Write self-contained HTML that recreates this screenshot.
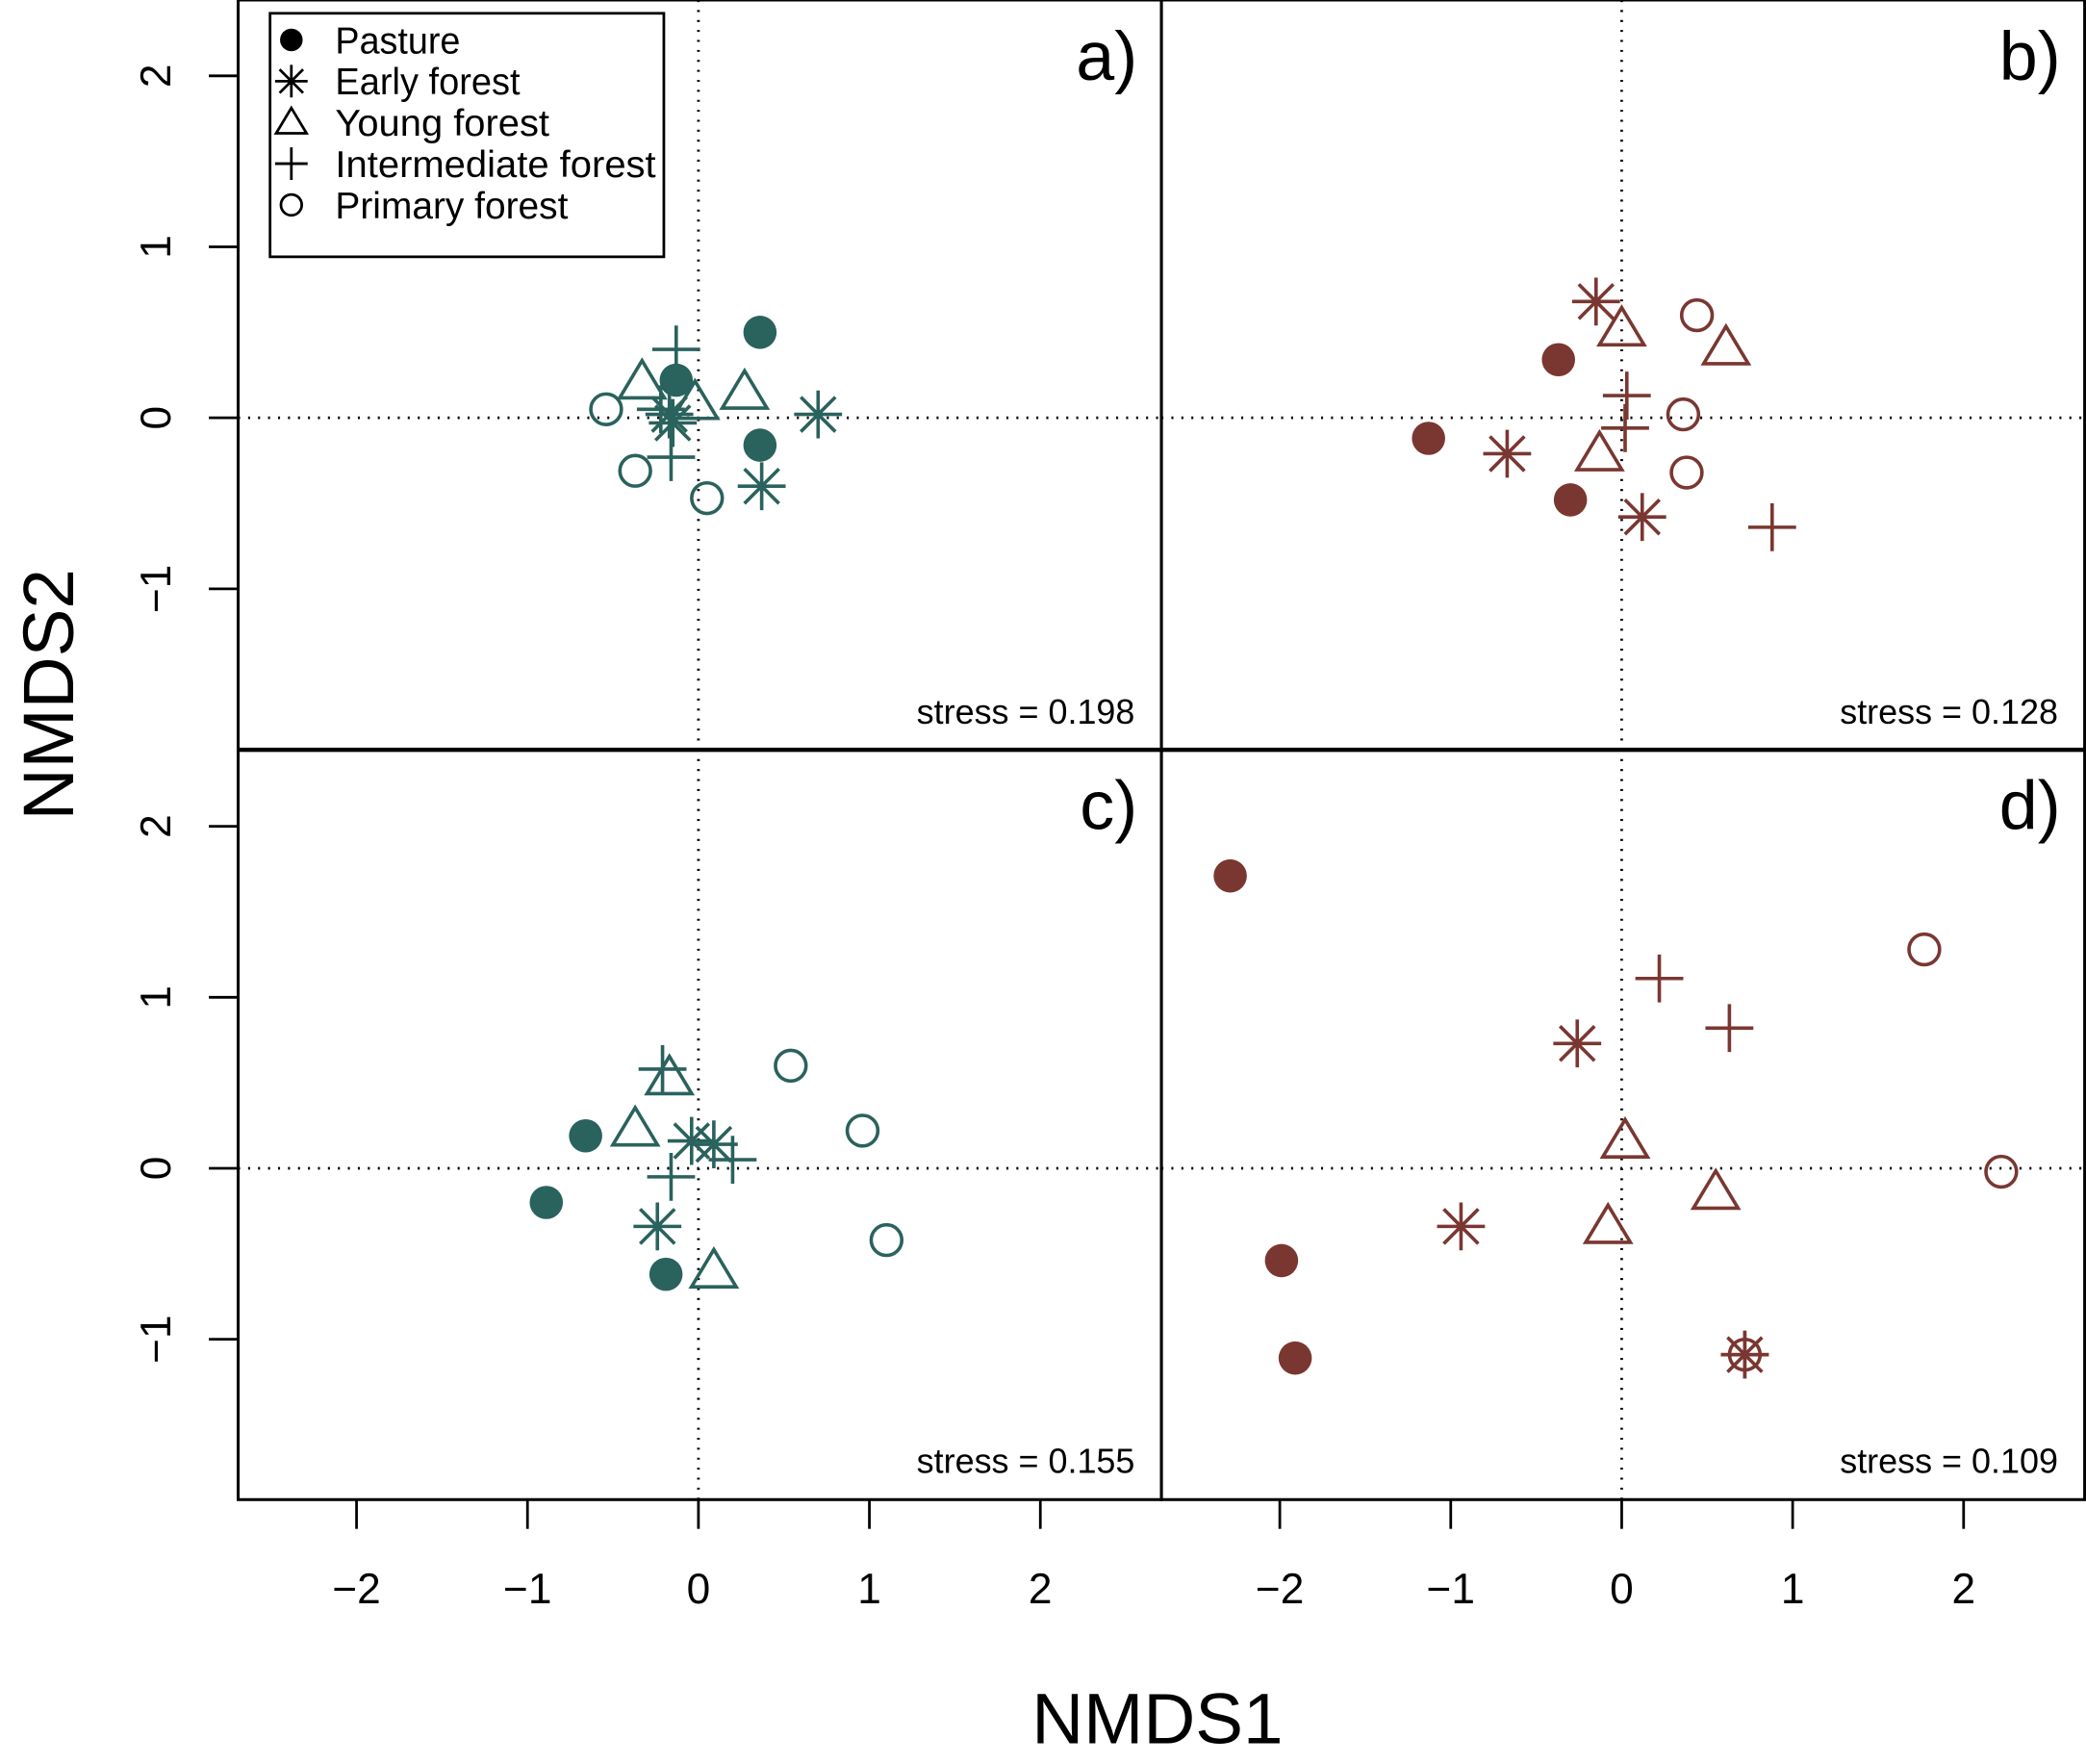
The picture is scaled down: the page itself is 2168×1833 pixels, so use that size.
<!DOCTYPE html>
<html><head><meta charset="utf-8"><style>
html,body{margin:0;padding:0;background:#fff;}
svg{display:block;}
text{font-family:"Liberation Sans",sans-serif;}
</style></head><body>
<svg id="chart" xmlns="http://www.w3.org/2000/svg" width="2168" height="1833" viewBox="0 0 1568 1325.7" preserveAspectRatio="none">
<rect x="0" y="0" width="1568" height="1326" fill="#fff"/>
<g id="frames"></g>
<g id="marks"></g>
<g id="legend">
  <rect x="203" y="10" width="296" height="183" fill="none" stroke="#000" stroke-width="2"/>
</g>
<text x="870" y="1310" font-size="54" text-anchor="middle">NMDS1</text>
<text transform="translate(55,522) rotate(-90)" font-size="54" text-anchor="middle">NMDS2</text>
</svg>
<script>
const categories = ["Pasture","Early forest","Young forest","Intermediate forest","Primary forest"];
const shapes = ["dot","star","tri","plus","circ"];
const tickValues = [-2,-1,0,1,2];
const tickLabels = ["\u22122","\u22121","0","1","2"];
const panelLabels = ["a)","b)","c)","d)"];
const stressValues = ["stress = 0.198","stress = 0.128","stress = 0.155","stress = 0.109"];
// panel a
const aPastureX=[0.36,-0.13,0.36], aPastureY=[0.50,0.22,-0.16];
const aEarlyX=[0.70,0.37,-0.17,-0.15], aEarlyY=[0.02,-0.40,0.02,-0.03];
const aYoungX=[-0.33,0.27,-0.02], aYoungY=[0.21,0.15,0.09];
const aInterX=[-0.13,-0.22,-0.16], aInterY=[0.40,0.05,-0.23];
const aPrimX=[-0.54,-0.37,0.05], aPrimY=[0.05,-0.31,-0.47];
// panel b
const bPastureX=[-0.37,-1.13,-0.30], bPastureY=[0.34,-0.12,-0.48];
const bEarlyX=[-0.15,-0.67,0.12], bEarlyY=[0.68,-0.21,-0.58];
const bYoungX=[0.00,0.61,-0.13], bYoungY=[0.52,0.41,-0.21];
const bInterX=[0.03,0.02,0.88], bInterY=[0.13,-0.06,-0.64];
const bPrimX=[0.44,0.36,0.38], bPrimY=[0.60,0.02,-0.32];
// panel c
const cPastureX=[-0.66,-0.89,-0.19], cPastureY=[0.19,-0.20,-0.62];
const cEarlyX=[-0.04,0.09,-0.24], cEarlyY=[0.16,0.14,-0.34];
const cYoungX=[-0.37,-0.17,0.09], cYoungY=[0.23,0.53,-0.60];
const cInterX=[-0.21,0.20,-0.16], cInterY=[0.58,0.05,-0.05];
const cPrimX=[0.54,0.96,1.10], cPrimY=[0.60,0.22,-0.42];
// panel d
const dPastureX=[-2.29,-1.99,-1.91], dPastureY=[1.71,-0.54,-1.11];
const dEarlyX=[-0.26,-0.94,0.72], dEarlyY=[0.73,-0.34,-1.09];
const dYoungX=[0.02,0.55,-0.08], dYoungY=[0.16,-0.14,-0.34];
const dInterX=[0.22,0.63,0.72], dInterY=[1.11,0.82,-1.09];
const dPrimX=[1.77,2.22,0.72], dPrimY=[1.28,-0.02,-1.09];

const NS="http://www.w3.org/2000/svg";
const TEAL="#2a625d", BROWN="#7a3731";
const panels=[
 {x0:179,y0:0,cx:525,cy:314,color:TEAL,data:[[aPastureX,aPastureY],[aEarlyX,aEarlyY],[aYoungX,aYoungY],[aInterX,aInterY],[aPrimX,aPrimY]]},
 {x0:873,y0:0,cx:1219,cy:314,color:BROWN,data:[[bPastureX,bPastureY],[bEarlyX,bEarlyY],[bYoungX,bYoungY],[bInterX,bInterY],[bPrimX,bPrimY]]},
 {x0:179,y0:563,cx:525,cy:878,color:TEAL,data:[[cPastureX,cPastureY],[cEarlyX,cEarlyY],[cYoungX,cYoungY],[cInterX,cInterY],[cPrimX,cPrimY]]},
 {x0:873,y0:563,cx:1219,cy:878,color:BROWN,data:[[dPastureX,dPastureY],[dEarlyX,dEarlyY],[dYoungX,dYoungY],[dInterX,dInterY],[dPrimX,dPrimY]]}
];
const U=128.5, PW=694, PH=564;
function el(tag,attrs,parent){const e=document.createElementNS(NS,tag);for(const k in attrs)e.setAttribute(k,attrs[k]);parent.appendChild(e);return e;}
const frames=document.getElementById('frames'), marks=document.getElementById('marks');

function drawShape(shape,x,y,color,s,parent,sw){
  const g=el('g',{},parent);
  if(shape==='dot') el('circle',{cx:x,cy:y,r:12.5*s,fill:color},g);
  else if(shape==='circ') el('circle',{cx:x,cy:y,r:11.5*s,fill:'none',stroke:color,'stroke-width':sw},g);
  else if(shape==='tri'){const h=16*s;el('polygon',{points:`${x},${y-h} ${x+h*1.05},${y+h*0.75} ${x-h*1.05},${y+h*0.75}`,fill:'none',stroke:color,'stroke-width':sw},g);}
  else if(shape==='plus'){const a=18*s;el('path',{d:`M${x-a},${y}H${x+a}M${x},${y-a}V${y+a}`,stroke:color,'stroke-width':sw,fill:'none'},g);}
  else if(shape==='star'){const a=18*s,b=13*s;el('path',{d:`M${x-a},${y}H${x+a}M${x},${y-a}V${y+a}M${x-b},${y-b}L${x+b},${y+b}M${x-b},${y+b}L${x+b},${y-b}`,stroke:color,'stroke-width':sw,fill:'none'},g);}
  return g;
}

panels.forEach((p,pi)=>{
  const fx=v=>p.cx+v*U, fy=v=>p.cy-v*U;
  const r=el('rect',{x:p.x0,y:p.y0,width:PW,height:PH,fill:'none',stroke:'#000','stroke-width':2.2},frames);
  
  
  const h=el('line',{x1:p.x0,x2:p.x0+PW,y1:fy(0),y2:fy(0),stroke:'#000','stroke-width':2,'stroke-dasharray':'1.5 6'},frames);
  
  
  const v=el('line',{x1:fx(0),x2:fx(0),y1:p.y0,y2:p.y0+PH,stroke:'#000','stroke-width':2,'stroke-dasharray':'1.5 6'},frames);
  
  
  const lab=el('text',{x:p.x0+PW-18,y:p.y0+60,'font-size':52,'text-anchor':'end'},frames);
  lab.textContent=panelLabels[pi];
  
  
  const st=el('text',{x:p.x0+PW-20,y:p.y0+PH-20,'font-size':26,'text-anchor':'end'},frames);
  st.textContent=stressValues[pi];
  
  
  if(pi>=2){
    tickValues.forEach((t,i)=>{
      const tk=el('line',{x1:fx(t),x2:fx(t),y1:1127,y2:1149,stroke:'#000','stroke-width':2},frames);
      
      
      const tl=el('text',{x:fx(t),y:1205,'font-size':32,'text-anchor':'middle'},frames);
      tl.textContent=tickLabels[i];
      
      
    });
  }
  if(pi%2===0){
    [-1,0,1,2].forEach(t=>{
      const i=tickValues.indexOf(t);
      const tk=el('line',{x1:157,x2:179,y1:fy(t),y2:fy(t),stroke:'#000','stroke-width':2},frames);
      
      
      const tl=el('text',{transform:`translate(128,${fy(t)}) rotate(-90)`,'font-size':32,'text-anchor':'middle'},frames);
      tl.textContent=tickLabels[i];
      
      
    });
  }
  p.data.forEach((ser,si)=>{
    const xs=ser[0], ys=ser[1];
    xs.forEach((xv,k)=>{
      const g=drawShape(shapes[si],fx(xv),fy(ys[k]),p.color,1,marks,2.6);
      
      
    });
  });
});

const legend=document.getElementById('legend');
const legendLens=[94,139,161,241,175];
categories.forEach((c,i)=>{
  const y=30+i*31;
  const g=drawShape(shapes[i],219,y,'#000',0.68,legend,2);
  
  
  const t=el('text',{x:252,y:y+10,'font-size':28,textLength:legendLens[i],lengthAdjust:'spacingAndGlyphs'},legend);
  t.textContent=c;
  
  
});
</script>
</body></html>
